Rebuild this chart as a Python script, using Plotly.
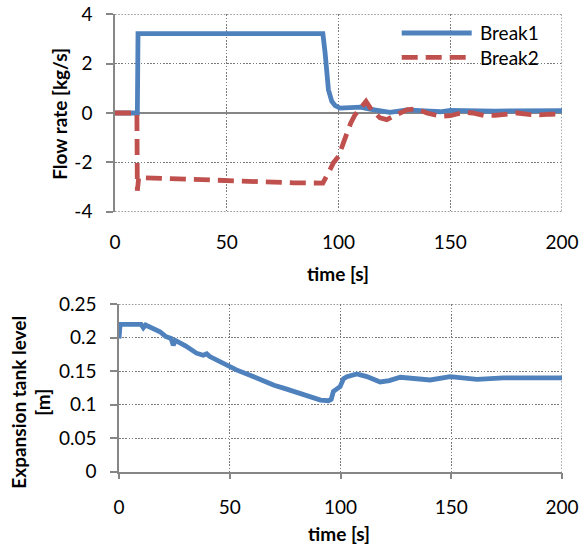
import plotly.graph_objects as go

# ---------------- data ----------------
break1_t = [0, 10, 10.3, 30, 60, 93, 94, 94.8, 95.5, 97, 98.5, 100.7, 105, 109.7, 114,
            118.6, 123, 127, 130.6, 136.5, 145.5, 150, 155, 163, 170, 178, 190, 200]
break1_q = [0, 0, 3.22, 3.22, 3.22, 3.22, 2.44, 1.75, 0.94, 0.47, 0.3, 0.2, 0.2, 0.24, 0.16,
            0.07, 0.03, 0.08, 0.13, 0.1, 0.05, 0.11, 0.1, 0.05, 0.07, 0.09, 0.1, 0.1]

break2_t = [0, 9.8, 10, 10.6, 12, 20, 35, 50, 65, 80, 93, 94.8, 96.2, 97.7, 100, 102.2, 103.7,
            105.5, 107.4, 111.2, 112.3, 114.8, 118.6, 121.6, 126, 130.6, 135, 139.5, 145.5,
            150, 154, 157, 160, 165, 170, 175, 180, 185, 190, 195, 200]
break2_q = [0, 0, -3.15, -2.62, -2.62, -2.65, -2.7, -2.76, -2.8, -2.83, -2.84, -2.57, -2.3, -2.02,
            -1.76, -1.21, -0.81, -0.4, -0.07, 0.4, 0.47, 0.13, -0.2, -0.27, -0.07, 0.13, 0.17,
            0.0, -0.13, -0.11, -0.02, 0.02, 0.0, -0.1, -0.1, -0.03, 0.0, -0.06, -0.08, -0.05, -0.03]

tank_t = [0, 0.5, 10, 11, 12, 18.5, 21, 23.5, 24.5, 25.5, 30, 35, 38, 39.6, 41, 46, 50, 53, 60,
          66.7, 70, 75, 81.8, 87.8, 91, 94.6, 95.8, 96.8, 99.8, 101.4, 102.9, 107.4, 111.9,
          117.9, 122, 127, 133, 140.5, 149.5, 155, 161.6, 173.6, 188.7, 200]
tank_level = [0.199, 0.22, 0.22, 0.215, 0.219, 0.209, 0.202, 0.199, 0.189, 0.196, 0.188, 0.177,
              0.174, 0.176, 0.172, 0.164, 0.157, 0.152, 0.143, 0.133, 0.129, 0.124, 0.117, 0.11,
              0.107, 0.106, 0.108, 0.12, 0.127, 0.139, 0.142, 0.146, 0.142, 0.134, 0.136, 0.141,
              0.139, 0.137, 0.142, 0.14, 0.138, 0.14, 0.139, 0.14]

x_ticks = [0, 50, 100, 150, 200]
flow_ticks = [-4, -2, 0, 2, 4]
flow_tick_labels = ["-4", "-2", "0", "2", "4"]
level_ticks = [0, 0.05, 0.1, 0.15, 0.2, 0.25]
level_tick_labels = ["0", "0.05", "0.1", "0.15", "0.2", "0.25"]
series_names = ["Break1", "Break2"]

BLUE = "#4F81BD"
RED = "#C0504D"
GRID = "#7A7A7A"
AXIS = "#868686"
FONT = "Lato"
GRID_DASH = "1.6px,1.6px"
W, H = 579, 547

fig = go.Figure()
fig.add_trace(go.Scatter(x=break1_t, y=break1_q, mode="lines", name=series_names[0],
                         line=dict(color=BLUE, width=4.8), xaxis="x", yaxis="y", showlegend=False))
fig.add_trace(go.Scatter(x=break2_t, y=break2_q, mode="lines", name=series_names[1],
                         line=dict(color=RED, width=4.8, dash="16px,8px"), xaxis="x", yaxis="y",
                         showlegend=False))
fig.add_trace(go.Scatter(x=tank_t, y=tank_level, mode="lines", name="Expansion tank level",
                         line=dict(color=BLUE, width=4.8), xaxis="x2", yaxis="y2", showlegend=False))

def px_x(p):
    return p / W

def px_y(p):
    return 1 - p / H

grid = dict(showgrid=True, gridcolor=GRID, gridwidth=1.2, griddash=GRID_DASH, automargin=False)
tickfont = dict(family=FONT, size=19, color="#000000")

fig.update_layout(
    width=W, height=H,
    margin=dict(l=0, r=0, t=0, b=0),
    paper_bgcolor="white", plot_bgcolor="white",
    font=dict(family=FONT, size=19, color="#000000"),
    xaxis=dict(domain=[px_x(115), px_x(562)], range=[0, 200], anchor="y",
               tickvals=x_ticks, ticks="", showline=False, zeroline=False,
               tickfont=tickfont, ticklabelstandoff=17, **grid),
    yaxis=dict(domain=[px_y(211.7), px_y(14.3)], range=[-4, 4], anchor="x",
               tickvals=flow_ticks, ticktext=flow_tick_labels,
               ticks="outside", ticklen=7, tickwidth=1.5, tickcolor=AXIS,
               showline=True, linecolor=AXIS, linewidth=1.5,
               zeroline=True, zerolinecolor=AXIS, zerolinewidth=1.5,
               tickfont=tickfont, ticklabelstandoff=10, **grid),
    xaxis3=dict(overlaying="x", anchor="free", position=px_y(113.3), range=[0, 200],
                domain=[px_x(115), px_x(562)], automargin=False,
                tickvals=x_ticks, ticks="outside", ticklen=5, tickwidth=1.5, tickcolor=AXIS,
                showticklabels=False, showgrid=False, showline=False, zeroline=False),
    xaxis2=dict(domain=[px_x(119), px_x(562)], range=[0, 200], anchor="y2",
                tickvals=x_ticks, ticks="outside", ticklen=6, tickwidth=1.5, tickcolor=AXIS,
                showline=True, linecolor=AXIS, linewidth=1.5, zeroline=False,
                tickfont=tickfont, ticklabelstandoff=12, **grid),
    yaxis2=dict(domain=[px_y(471.7), px_y(304.3)], range=[0, 0.25], anchor="x2",
                tickvals=level_ticks, ticktext=level_tick_labels,
                ticks="outside", ticklen=7, tickwidth=1.5, tickcolor=AXIS,
                showline=True, linecolor=AXIS, linewidth=1.5, zeroline=False,
                tickfont=tickfont, ticklabelstandoff=10, **grid),
)

# dotted plot-area borders (grid lines at the range edges)
border = dict(color=GRID, width=1.2, dash=GRID_DASH)
fig.add_shape(type="line", xref="x", yref="y", x0=0, x1=200, y0=4, y1=4, line=border, layer="below")
fig.add_shape(type="line", xref="x", yref="y", x0=0, x1=200, y0=-4, y1=-4, line=border, layer="below")
fig.add_shape(type="line", xref="x", yref="y", x0=200, x1=200, y0=4, y1=-4, line=border, layer="below")
fig.add_shape(type="line", xref="x2", yref="y2", x0=0, x1=200, y0=0.25, y1=0.25, line=border, layer="below")
fig.add_shape(type="line", xref="x2", yref="y2", x0=200, x1=200, y0=0.25, y1=0, line=border, layer="below")

title_font = dict(family=FONT, size=19, color="#000000")
fig.add_annotation(text="<b>Flow rate [kg/s]</b>", textangle=-90, xref="paper", yref="paper",
                   x=px_x(60), y=px_y(113.8), showarrow=False, font=title_font,
                   xanchor="center", yanchor="middle")
fig.add_annotation(text="<b>time [s]</b>", xref="paper", yref="paper",
                   x=px_x(337.5), y=px_y(273), showarrow=False, font=title_font,
                   xanchor="center", yanchor="middle")
fig.add_annotation(text="<b>Expansion tank level</b><br><b>[m]</b>", textangle=-90,
                   xref="paper", yref="paper", x=px_x(30.7), y=px_y(402), showarrow=False,
                   font=title_font, xanchor="center", yanchor="middle")
fig.add_annotation(text="<b>time [s]</b>", xref="paper", yref="paper",
                   x=px_x(339.2), y=px_y(533), showarrow=False, font=title_font,
                   xanchor="center", yanchor="middle")

# legend (drawn manually to match long sample lines)
leg_y = [33, 57.3]
leg_col = [BLUE, RED]
leg_dash = ["solid", "16px,8px"]
for name, yy, c, d in zip(series_names, leg_y, leg_col, leg_dash):
    fig.add_shape(type="line", xref="paper", yref="paper", x0=px_x(401.7), x1=px_x(471.7),
                  y0=px_y(yy), y1=px_y(yy), line=dict(color=c, width=4.8, dash=d))
    fig.add_annotation(text=name, xref="paper", yref="paper", x=px_x(478), y=px_y(yy),
                       xanchor="left", yanchor="middle", showarrow=False,
                       font=dict(family=FONT, size=19, color="#000000"))

fig.write_html("out.html",
               config={"displayModeBar": False},
               post_script="document.body.style.margin='0';document.body.style.padding='0';"
                           "document.documentElement.style.overflow='hidden';")
